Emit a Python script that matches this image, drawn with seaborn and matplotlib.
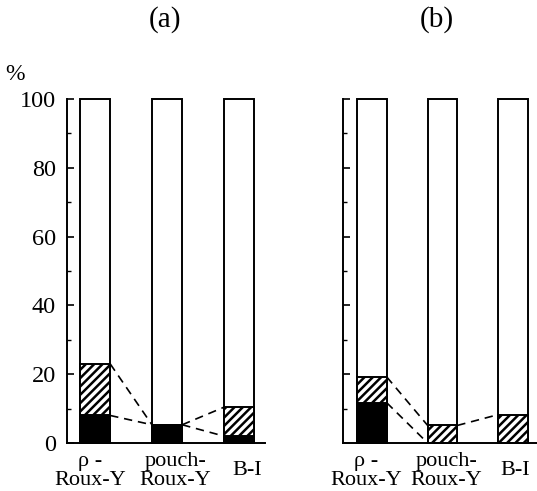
import matplotlib
matplotlib.use("Agg")
import matplotlib.pyplot as plt
import matplotlib.transforms as mtransforms
import seaborn as sns
import pandas as pd
import numpy as np

categories = ["ρ -\nRoux-Y", "pouch-\nRoux-Y", "B-I"]
total = [100, 100, 100]
a_black = [8.0, 5.3, 2.0]
a_hatched = [15.0, 0.0, 8.4]
b_black = [11.7, 0.0, 0.0]
b_hatched = [7.5, 5.1, 8.25]
panel_titles = ["(a)", "(b)"]
yticks = [0, 20, 40, 60, 80, 100]

sns.set_style("ticks")
plt.rcParams['font.family'] = ['Liberation Serif', 'DejaVu Serif']
plt.rcParams['hatch.linewidth'] = 1.8
plt.rcParams['hatch.color'] = 'black'
plt.rcParams['text.color'] = 'black'
plt.rcParams['xtick.color'] = 'black'
plt.rcParams['ytick.color'] = 'black'
plt.rcParams['axes.edgecolor'] = 'black'

fig = plt.figure(figsize=(5.37, 4.91), dpi=100)
ax_a = fig.add_axes([67/537, 48/491, 198/537, 344/491])
ax_b = fig.add_axes([343/537, 48/491, 194/537, 344/491])

W = 0.42

def draw(ax, black, hatched, xlim, label_shift):
    df = pd.DataFrame({"cat": categories, "total": total,
                       "cum": np.array(black) + np.array(hatched),
                       "black": black})
    sns.barplot(data=df, x="cat", y="total", order=categories, color="white",
                edgecolor="black", linewidth=1.4, width=W, ax=ax, saturation=1)
    sns.barplot(data=df, x="cat", y="cum", order=categories, color="white",
                edgecolor="black", linewidth=1.4, width=W, ax=ax, saturation=1,
                hatch="////")
    sns.barplot(data=df, x="cat", y="black", order=categories, color="black",
                edgecolor="black", linewidth=1.4, width=W, ax=ax, saturation=1)
    for p in ax.patches:
        p.set_clip_on(False)
    cum = df["cum"].values
    blk = df["black"].values
    for i in range(len(categories) - 1):
        x0, x1 = i + W/2, i + 1 - W/2
        for lev in (cum, blk):
            if lev[i] == 0 and lev[i+1] == 0:
                continue
            ax.plot([x0, x1], [lev[i], lev[i+1]], color="black", lw=1.2,
                    ls=(0, (5, 3.5)), clip_on=False, zorder=5)
    ax.set_xlim(*xlim)
    ax.set_ylim(0, 100)
    ax.set_xlabel("")
    ax.set_ylabel("")
    ax.set_yticks(yticks)
    ax.set_yticks([10, 30, 50, 70, 90], minor=True)
    ax.tick_params(axis='y', which='major', direction='in', length=5, width=1.2)
    ax.tick_params(axis='y', which='minor', direction='in', length=3, width=1.0)
    ax.tick_params(axis='x', length=0, pad=20, labelsize=16)
    for t, dx in zip(ax.get_xticklabels(), label_shift):
        t.set_va('center')
        t.set_linespacing(1.0)
        t.set_transform(t.get_transform() +
                        mtransforms.ScaledTranslation(dx/100, 0, fig.dpi_scale_trans))
    for s in ("top", "right"):
        ax.spines[s].set_visible(False)
    for s in ("left", "bottom"):
        ax.spines[s].set_linewidth(1.4)

draw(ax_a, a_black, a_hatched, (-0.39, 2.36), [-5, 8, 8])
draw(ax_b, b_black, b_hatched, (-0.41, 2.34), [-6, 4, 2])

ax_a.tick_params(axis='y', labelsize=17.5, pad=8)
ax_b.tick_params(axis='y', labelleft=False)

fig.text(165/537, 1 - 20/491, panel_titles[0], ha="center", va="center", fontsize=21)
fig.text(437/537, 1 - 20/491, panel_titles[1], ha="center", va="center", fontsize=21)
fig.text(15/537, 1 - 75/491, "%", ha="center", va="center", fontsize=17)

fig.savefig("out.png", dpi=100)
